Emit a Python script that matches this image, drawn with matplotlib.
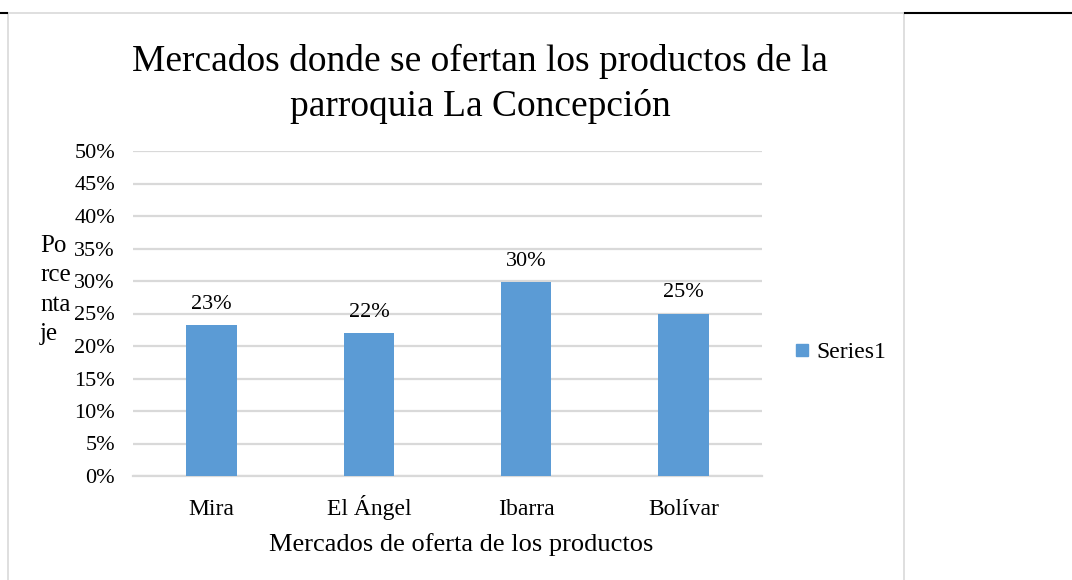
import matplotlib.pyplot as plt
from matplotlib.lines import Line2D

# Datos del gráfico
mercados = ["Mira", "El Ángel", "Ibarra", "Bolívar"]
porcentajes = [0.232, 0.22, 0.298, 0.25]
etiquetas = ["23%", "22%", "30%", "25%"]
ticks_y = [0, 0.05, 0.10, 0.15, 0.20, 0.25, 0.30, 0.35, 0.40, 0.45, 0.50]

plt.rcParams['font.family'] = ['Liberation Serif', 'DejaVu Serif']

fig = plt.figure(figsize=(10.72, 5.8), dpi=100)
ax = fig.add_axes([133 / 1072, 1 - 476 / 580, 629 / 1072, 325 / 580])

color_barra = '#5b9bd5'
gris = '#d9d9d9'

x = range(len(mercados))
ax.bar(x, porcentajes, width=0.32, color=color_barra, zorder=3, label="Series1")
for xi, v, txt in zip(x, porcentajes, etiquetas):
    ax.annotate(txt, (xi, v), xytext=(0, 8), textcoords='offset points',
                ha='center', va='bottom', fontsize=16)

ax.set_xlim(-0.5, len(mercados) - 0.5)
ax.set_ylim(0, 0.5)
ax.set_yticks(ticks_y)
ax.set_yticklabels([f"{int(round(t * 100))}%" for t in ticks_y])
ax.set_xticks(list(x))
ax.set_xticklabels(mercados, va='baseline')
ax.tick_params(axis='both', length=0, labelsize=16)
ax.tick_params(axis='y', pad=13)
ax.tick_params(axis='x', pad=28, labelsize=17)
ax.grid(axis='y', color=gris, linewidth=1.6, zorder=0)
for s in ['top', 'right', 'left']:
    ax.spines[s].set_visible(False)
ax.spines['bottom'].set_color(gris)
ax.spines['bottom'].set_linewidth(1.6)

# Título del eje X
fig.text(461 / 1072, 1 - 545 / 580, "Mercados de oferta de los productos",
         fontsize=19, ha='center', va='center')

# Etiqueta del eje Y partida en líneas
fig.text(40 / 1072, 1 - 290 / 580, "Po\nrce\nnta\nje", fontsize=18,
         ha='left', va='center', linespacing=1.45)

# Título
fig.text(480 / 1072, 1 - 84 / 580,
         "Mercados donde se ofertan los productos de la\nparroquia La Concepción",
         fontsize=27, ha='center', va='center', linespacing=1.35)

# Leyenda
fig.legend(handles=[Line2D([], [], marker='s', color=color_barra, linestyle='',
                           markersize=9, label="Series1")],
           loc='center left', bbox_to_anchor=(793 / 1072, 1 - 352 / 580),
           frameon=False, fontsize=17, handlelength=0.8, handletextpad=0.2,
           borderaxespad=0, borderpad=0)

# Bordes del documento
def linea(x0, y0, x1, y1, color, lw):
    fig.add_artist(Line2D([x0 / 1072, x1 / 1072], [1 - y0 / 580, 1 - y1 / 580],
                          color=color, linewidth=lw, transform=fig.transFigure))

linea(8, 13, 904, 13, gris, 1.2)
linea(8, 13, 8, 580, gris, 1.2)
linea(904, 13, 904, 580, gris, 1.2)
linea(0, 13, 7, 13, 'black', 1.5)
linea(905, 13, 1072, 13, 'black', 1.5)

fig.savefig("out.png", dpi=100)
